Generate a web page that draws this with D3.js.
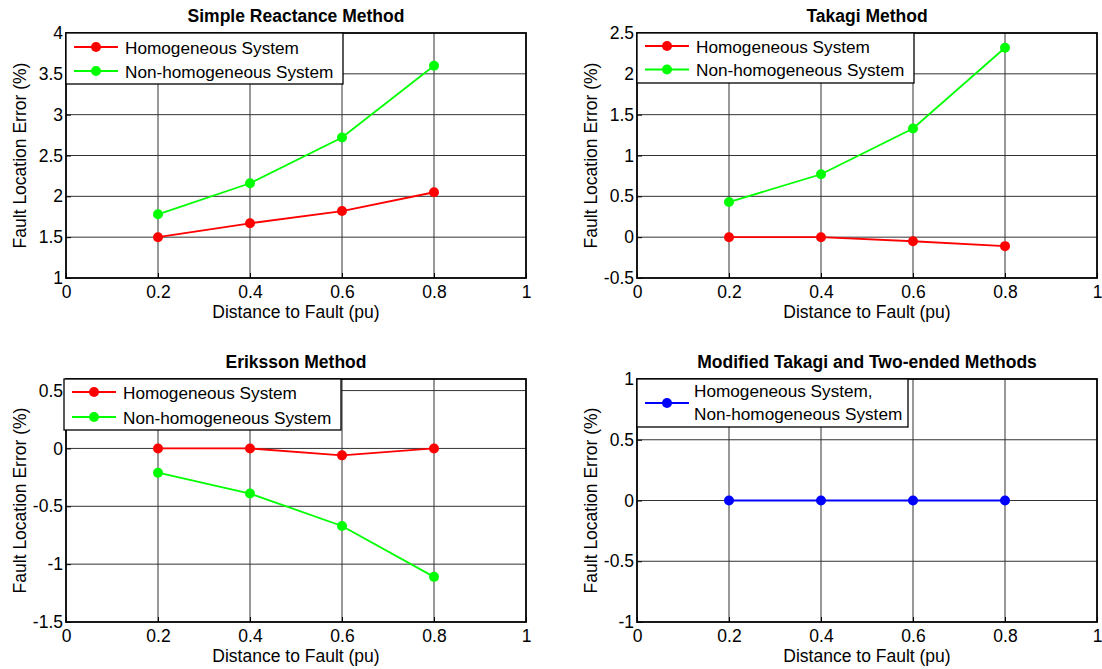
<!DOCTYPE html>
<html>
<head>
<meta charset="utf-8">
<script src="https://cdn.jsdelivr.net/npm/d3@7"></script>
<style>
  html, body { margin: 0; padding: 0; background: #fff; }
  svg { display: block; font-family: "Liberation Sans", Arial, sans-serif; }
</style>
</head>
<body>
<svg id="chart" width="1102" height="669"></svg>
<script>
// Fault distances (pu) shared by every panel
const distances = [0.2, 0.4, 0.6, 0.8];
const xTicks = [0, 0.2, 0.4, 0.6, 0.8, 1];

// Simple Reactance Method
const reactanceHomo = [1.5, 1.67, 1.82, 2.05];
const reactanceNonHomo = [1.78, 2.16, 2.72, 3.6];
const reactanceYTicks = [1, 1.5, 2, 2.5, 3, 3.5, 4];

// Takagi Method
const takagiHomo = [0, 0, -0.05, -0.11];
const takagiNonHomo = [0.43, 0.77, 1.33, 2.32];
const takagiYTicks = [-0.5, 0, 0.5, 1, 1.5, 2, 2.5];

// Eriksson Method
const erikssonHomo = [0, 0, -0.06, 0];
const erikssonNonHomo = [-0.21, -0.39, -0.67, -1.11];
const erikssonYTicks = [-1.5, -1, -0.5, 0, 0.5];

// Modified Takagi and Two-ended Methods (both systems identical)
const modifiedBoth = [0, 0, 0, 0];
const modifiedYTicks = [-1, -0.5, 0, 0.5, 1];

const RED = "#ff0000", GREEN = "#00ff00", BLUE = "#0000ff";

const panels = [
  { title: "Simple Reactance Method", left: 66, top: 33, h: 245, yDomain: [1, 4], yTicks: reactanceYTicks,
    series: [
      { values: reactanceHomo, color: RED },
      { values: reactanceNonHomo, color: GREEN }
    ],
    legend: { w: 277, h: 51, row0: 14, step: 24, rows: [["Homogeneous System", RED], ["Non-homogeneous System", GREEN]] } },
  { title: "Takagi Method", left: 637, top: 33, h: 245, yDomain: [-0.5, 2.5], yTicks: takagiYTicks,
    series: [
      { values: takagiHomo, color: RED },
      { values: takagiNonHomo, color: GREEN }
    ],
    legend: { w: 277, h: 50, row0: 13, step: 23.5, rows: [["Homogeneous System", RED], ["Non-homogeneous System", GREEN]] } },
  { title: "Eriksson Method", left: 66, top: 379, h: 243, yDomain: [-1.5, 0.6], yTicks: erikssonYTicks,
    series: [
      { values: erikssonHomo, color: RED },
      { values: erikssonNonHomo, color: GREEN }
    ],
    legend: { w: 277, h: 51, dx: -2, row0: 13, step: 25, rows: [["Homogeneous System", RED], ["Non-homogeneous System", GREEN]] } },
  { title: "Modified Takagi and Two-ended Methods", left: 637, top: 379, h: 243, yDomain: [-1, 1], yTicks: modifiedYTicks,
    series: [
      { values: modifiedBoth, color: BLUE }
    ],
    legend: { w: 271, h: 48, multiline: ["Homogeneous System,", "Non-homogeneous System"], color: BLUE } }
];

const W = 460;
const FONT = 17.5, LEGEND_FONT = 17.2;
const fmt = d => String(d);   // plain hyphen minus, as in the original axes
const svg = d3.select("#chart");

panels.forEach(p => {
  const H = p.h;
  const g = svg.append("g").attr("transform", `translate(${p.left},${p.top})`);
  const x = d3.scaleLinear().domain([0, 1]).range([0, W]);
  const y = d3.scaleLinear().domain(p.yDomain).range([H, 0]);

  // grid
  g.append("g").selectAll("line").data(xTicks.slice(1, -1)).join("line")
    .attr("x1", d => x(d)).attr("x2", d => x(d)).attr("y1", 0).attr("y2", H)
    .attr("stroke", "#333").attr("stroke-width", 1);
  g.append("g").selectAll("line").data(p.yTicks.filter(t => t > p.yDomain[0] && t < p.yDomain[1])).join("line")
    .attr("x1", 0).attr("x2", W).attr("y1", d => y(d)).attr("y2", d => y(d))
    .attr("stroke", "#333").attr("stroke-width", 1);

  // axes (tick labels)
  const xAxis = g.append("g").attr("transform", `translate(0,${H})`)
    .call(d3.axisBottom(x).tickValues(xTicks).tickSize(-5).tickPadding(8).tickFormat(fmt));
  const yAxis = g.append("g")
    .call(d3.axisLeft(y).tickValues(p.yTicks).tickSize(-5).tickPadding(3).tickFormat(fmt));
  [xAxis, yAxis].forEach(a => {
    a.select(".domain").remove();
    a.selectAll("line").attr("stroke", "#000");
    a.selectAll("text").attr("font-size", FONT).attr("fill", "#000")
      .attr("font-family", "Liberation Sans, Arial, sans-serif");
  });

  // box
  g.append("rect").attr("x", 0).attr("y", 0).attr("width", W).attr("height", H)
    .attr("fill", "none").attr("stroke", "#000").attr("stroke-width", 1.8);

  // series
  const line = d3.line().x((d, i) => x(distances[i])).y(d => y(d));
  p.series.forEach(s => {
    g.append("path").datum(s.values).attr("d", line)
      .attr("fill", "none").attr("stroke", s.color).attr("stroke-width", 1.8);
    g.append("g").selectAll("circle").data(s.values).join("circle")
      .attr("cx", (d, i) => x(distances[i])).attr("cy", d => y(d)).attr("r", 5)
      .attr("fill", s.color);
  });

  // title
  g.append("text").attr("x", W / 2).attr("y", -11).attr("text-anchor", "middle")
    .attr("font-size", FONT).attr("font-weight", "bold").text(p.title);

  // axis labels
  g.append("text").attr("x", W / 2).attr("y", H + 40).attr("text-anchor", "middle")
    .attr("font-size", FONT).text("Distance to Fault (pu)");
  g.append("text").attr("transform", `translate(-40,${H / 2}) rotate(-90)`).attr("text-anchor", "middle")
    .attr("font-size", FONT).text("Fault Location Error (%)");

  // legend
  const L = p.legend;
  const lg = g.append("g").attr("transform", `translate(${L.dx || 0},0)`);
  lg.append("rect").attr("x", 0).attr("y", 0).attr("width", L.w).attr("height", L.h)
    .attr("fill", "#fff").attr("stroke", "#000").attr("stroke-width", 1.3);
  if (L.rows) {
    L.rows.forEach((r, i) => {
      const cy = L.row0 + i * L.step;
      lg.append("line").attr("x1", 8).attr("x2", 52).attr("y1", cy).attr("y2", cy)
        .attr("stroke", r[1]).attr("stroke-width", 1.8);
      lg.append("circle").attr("cx", 30).attr("cy", cy).attr("r", 5).attr("fill", r[1]);
      lg.append("text").attr("x", 59).attr("y", cy + 6.5).attr("font-size", LEGEND_FONT).text(r[0]);
    });
  } else {
    const cy = L.h / 2;
    lg.append("line").attr("x1", 8).attr("x2", 52).attr("y1", cy).attr("y2", cy)
      .attr("stroke", L.color).attr("stroke-width", 1.8);
    lg.append("circle").attr("cx", 30).attr("cy", cy).attr("r", 5).attr("fill", L.color);
    L.multiline.forEach((t, i) => {
      lg.append("text").attr("x", 57).attr("y", 18 + i * 23).attr("font-size", LEGEND_FONT).text(t);
    });
  }
});
</script>
</body>
</html>
